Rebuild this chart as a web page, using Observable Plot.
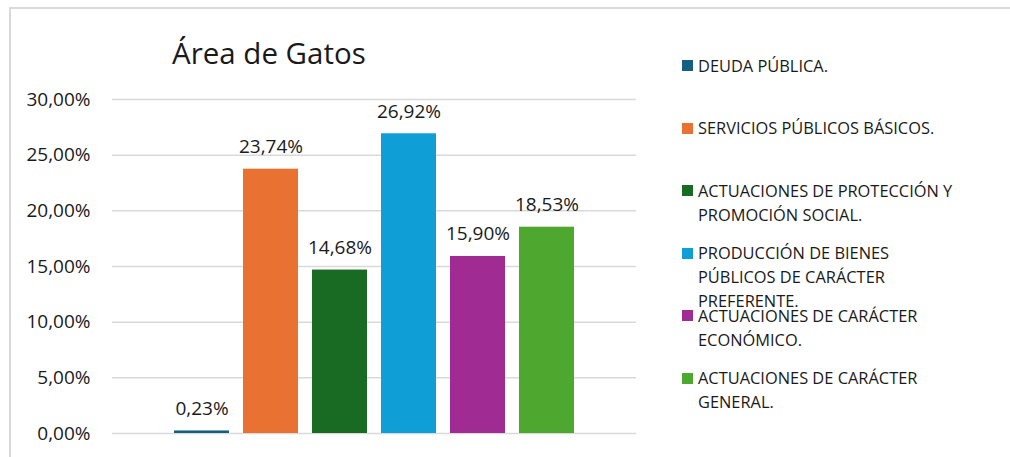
<!DOCTYPE html>
<html>
<head>
<meta charset="utf-8">
<script src="https://cdn.jsdelivr.net/npm/d3@7"></script>
<script src="https://cdn.jsdelivr.net/npm/@observablehq/plot@0.6"></script>
<style>
  html, body { margin: 0; padding: 0; background: #fff; }
  body { width: 1010px; height: 457px; position: relative; overflow: hidden; font-family: "Open Sans", sans-serif; color: #1a1a1a; }
  #frame { position: absolute; left: 9px; top: 7px; width: 1100px; height: 500px; border-left: 2px solid #d9d9d9; border-top: 2px solid #d9d9d9; box-sizing: border-box; }
  #chart { position: absolute; left: 0; top: 0; }
  #title { position: absolute; left: 172px; top: 33px; font-size: 29.5px; line-height: 40px; white-space: nowrap; color: #1a1a1a; }
  .item { position: absolute; left: 682px; display: flex; align-items: flex-start; }
  .sw { width: 11px; height: 11px; margin-top: 6.5px; margin-right: 5px; flex: none; }
  .lbl { font-size: 16.4px; line-height: 24px; white-space: pre; color: #1a1a1a; }
</style>
</head>
<body>
<div id="frame"></div>
<div id="chart"></div>
<div id="title">Área de Gatos</div>
<div id="legend"></div>
<script>
const categories = [
  "DEUDA PÚBLICA.",
  "SERVICIOS PÚBLICOS BÁSICOS.",
  "ACTUACIONES DE PROTECCIÓN Y\nPROMOCIÓN SOCIAL.",
  "PRODUCCIÓN DE BIENES\nPÚBLICOS DE CARÁCTER\nPREFERENTE.",
  "ACTUACIONES DE CARÁCTER\nECONÓMICO.",
  "ACTUACIONES DE CARÁCTER\nGENERAL."
];
const values = [0.23, 23.74, 14.68, 26.92, 15.90, 18.53];
const colors = ["#156082", "#E97132", "#196B24", "#0F9ED5", "#A02B93", "#4EA72E"];
const yTicks = [0, 5, 10, 15, 20, 25, 30];

const fmt = v => v.toFixed(2).replace(".", ",") + "%";
const data = categories.map((c, i) => ({cat: c, value: values[i], color: colors[i]}));

const chart = Plot.plot({
  width: 1010,
  height: 457,
  marginLeft: 112,
  marginRight: 374,
  marginTop: 99,
  marginBottom: 24,
  style: {fontFamily: "Open Sans, sans-serif", color: "#1a1a1a", background: "transparent"},
  x: {domain: categories, paddingInner: 0.21, paddingOuter: 0.86, axis: null},
  y: {domain: [0, 30], axis: null},
  marks: [
    Plot.gridY(yTicks, {stroke: "#d9d9d9", strokeOpacity: 1, strokeWidth: 1.5}),
    Plot.axisY(yTicks, {tickSize: 0, tickPadding: 22, tickFormat: fmt, fontSize: 19, fill: "#1a1a1a", label: null}),
    Plot.barY(data, {x: "cat", y: "value", fill: "color"}),
    Plot.text(data, {x: "cat", y: "value", text: d => fmt(d.value), lineAnchor: "bottom", dy: -16, fontSize: 19, fill: "#1a1a1a"})
  ]
});
document.getElementById("chart").appendChild(chart);

const legend = document.getElementById("legend");
categories.forEach((c, i) => {
  const item = document.createElement("div");
  item.className = "item";
  item.style.top = (53.5 + 62.5 * i) + "px";
  const sw = document.createElement("div");
  sw.className = "sw";
  sw.style.background = colors[i];
  const lbl = document.createElement("div");
  lbl.className = "lbl";
  lbl.textContent = c;
  item.appendChild(sw);
  item.appendChild(lbl);
  legend.appendChild(item);
});
</script>
</body>
</html>
